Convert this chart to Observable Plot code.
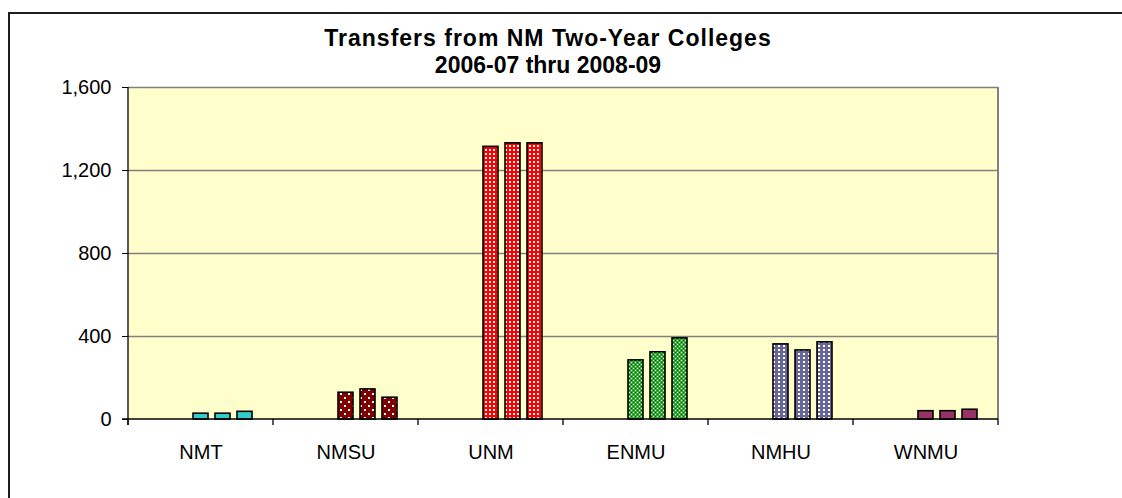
<!DOCTYPE html>
<html>
<head>
<meta charset="utf-8">
<script src="https://cdn.jsdelivr.net/npm/d3@7"></script>
<script src="https://cdn.jsdelivr.net/npm/@observablehq/plot@0.6"></script>
<style>
  html, body { margin: 0; padding: 0; background: #fff; overflow: hidden; }
  #wrap { position: relative; width: 1122px; height: 498px; overflow: hidden; background: #fff; }
  #frame { position: absolute; left: 0; top: 0; }
  #title { position: absolute; left: 0; top: 25px; width: 1096px; text-align: center;
           font: bold 23px "Liberation Sans", Arial, sans-serif; line-height: 27px; color: #000; }
  #title .l1 { letter-spacing: 1px; }
  #chart { position: absolute; left: 0; top: 0; }
</style>
</head>
<body>
<svg width="0" height="0" style="position:absolute">
  <defs>
    <pattern id="p-nmt" width="4" height="4" patternUnits="userSpaceOnUse">
      <rect width="4" height="4" fill="#33CCCC"/>
    </pattern>
    <pattern id="p-nmsu" width="8" height="8" patternUnits="userSpaceOnUse">
      <rect width="8" height="8" fill="#800000"/>
      <rect x="1" y="1" width="2" height="2" fill="#fff"/>
      <rect x="5" y="5" width="2" height="2" fill="#fff"/>
    </pattern>
    <pattern id="p-unm" width="4" height="4" patternUnits="userSpaceOnUse">
      <rect width="4" height="4" fill="#FF0000"/>
      <rect x="1" y="1" width="2" height="2" fill="#fff"/>
    </pattern>
    <pattern id="p-enmu" width="4" height="4" patternUnits="userSpaceOnUse">
      <rect width="4" height="4" fill="#33AA33"/>
      <rect x="0" y="0" width="1" height="1" fill="#fff"/>
      <rect x="2" y="2" width="1" height="1" fill="#fff"/>
      <rect x="2" y="0" width="1" height="1" fill="#006600"/>
      <rect x="0" y="2" width="1" height="1" fill="#006600"/>
    </pattern>
    <pattern id="p-nmhu" width="5" height="4" patternUnits="userSpaceOnUse">
      <rect width="5" height="4" fill="#666699"/>
      <rect x="1" y="1" width="2" height="2" fill="#fff"/>
    </pattern>
    <pattern id="p-wnmu" width="4" height="4" patternUnits="userSpaceOnUse">
      <rect width="4" height="4" fill="#993366"/>
    </pattern>
  </defs>
</svg>
<div id="wrap">
  <svg id="frame" width="1122" height="498">
    <path d="M9,498 V13 H1122" fill="none" stroke="#1e1e1e" stroke-width="2"/>
  </svg>
  <div id="chart"></div>
  <div id="title"><span class="l1">Transfers from NM Two-Year Colleges</span><br>2006-07 thru 2008-09</div>
</div>
<script>
// ---- data ----
const categories = ["NMT", "NMSU", "UNM", "ENMU", "NMHU", "WNMU"];
const years = ["2006-07", "2007-08", "2008-09"];
const values2006_07 = [28, 129, 1314, 285, 362, 40];
const values2007_08 = [28, 145, 1331, 324, 333, 40];
const values2008_09 = [37, 105, 1331, 391, 372, 47];
const yTicks = [0, 400, 800, 1200, 1600];
// Excel reserved two empty series slots before the three years
const seriesSlots = ["(empty 1)", "(empty 2)", ...years];
const patternFills = ["url(#p-nmt)", "url(#p-nmsu)", "url(#p-unm)", "url(#p-enmu)", "url(#p-nmhu)", "url(#p-wnmu)"];

const seriesValues = [values2006_07, values2007_08, values2008_09];
const rows = [];
categories.forEach((c, i) => {
  years.forEach((y, j) => rows.push({category: c, year: y, value: seriesValues[j][i]}));
});

const plot = Plot.plot({
  width: 1122,
  height: 498,
  marginLeft: 126,
  marginRight: 122,
  marginTop: 87,
  marginBottom: 79,
  style: {fontFamily: "'Liberation Sans', Arial, sans-serif", fontSize: "20px", color: "#000", background: "transparent", overflow: "visible"},
  fx: {domain: categories, padding: 0, label: null, tickSize: 0, tickPadding: 25},
  x: {domain: seriesSlots, paddingInner: 0.31, paddingOuter: 0.9, axis: null},
  y: {domain: [0, 1600], ticks: yTicks, tickFormat: d3.format(","), label: null, tickSize: 6, tickPadding: 11},
  color: {type: "ordinal", domain: categories, range: patternFills},
  marks: [
    Plot.ruleY(yTicks.slice(1), {stroke: "#808080", strokeWidth: 1.3}),
    Plot.barY(rows, {fx: "category", x: "year", y: "value", fill: "category", stroke: "#000", strokeWidth: 1.6})
  ]
});
document.getElementById("chart").appendChild(plot);

// plot-area decorations positioned through the plot's own scales
const fxS = plot.scale("fx"), yS = plot.scale("y");
const x0 = fxS.apply(categories[0]);
const x1 = fxS.apply(categories[categories.length - 1]) + fxS.bandwidth;
const yTop = yS.apply(1600), yBot = yS.apply(0);
const svg = d3.select(plot);
svg.insert("rect", ":first-child")
  .attr("x", x0).attr("y", yTop).attr("width", x1 - x0).attr("height", yBot - yTop)
  .attr("fill", "#FFFFCC");
// right border (grey)
svg.append("line").attr("x1", x1).attr("x2", x1).attr("y1", yTop).attr("y2", yBot)
  .attr("stroke", "#808080").attr("stroke-width", 2);
// axis lines (black)
svg.append("line").attr("x1", x0).attr("x2", x0).attr("y1", yTop).attr("y2", yBot + 6)
  .attr("stroke", "#000").attr("stroke-width", 1.3);
svg.append("line").attr("x1", x0 - 6).attr("x2", x1).attr("y1", yBot).attr("y2", yBot)
  .attr("stroke", "#000").attr("stroke-width", 1.3);
// category boundary ticks
const bounds = categories.map(c => fxS.apply(c)).concat([x1]);
svg.selectAll("line.cattick").data(bounds).join("line").attr("class", "cattick")
  .attr("x1", d => d).attr("x2", d => d).attr("y1", yBot).attr("y2", yBot + 6)
  .attr("stroke", "#000").attr("stroke-width", 1.3);
</script>
</body>
</html>
